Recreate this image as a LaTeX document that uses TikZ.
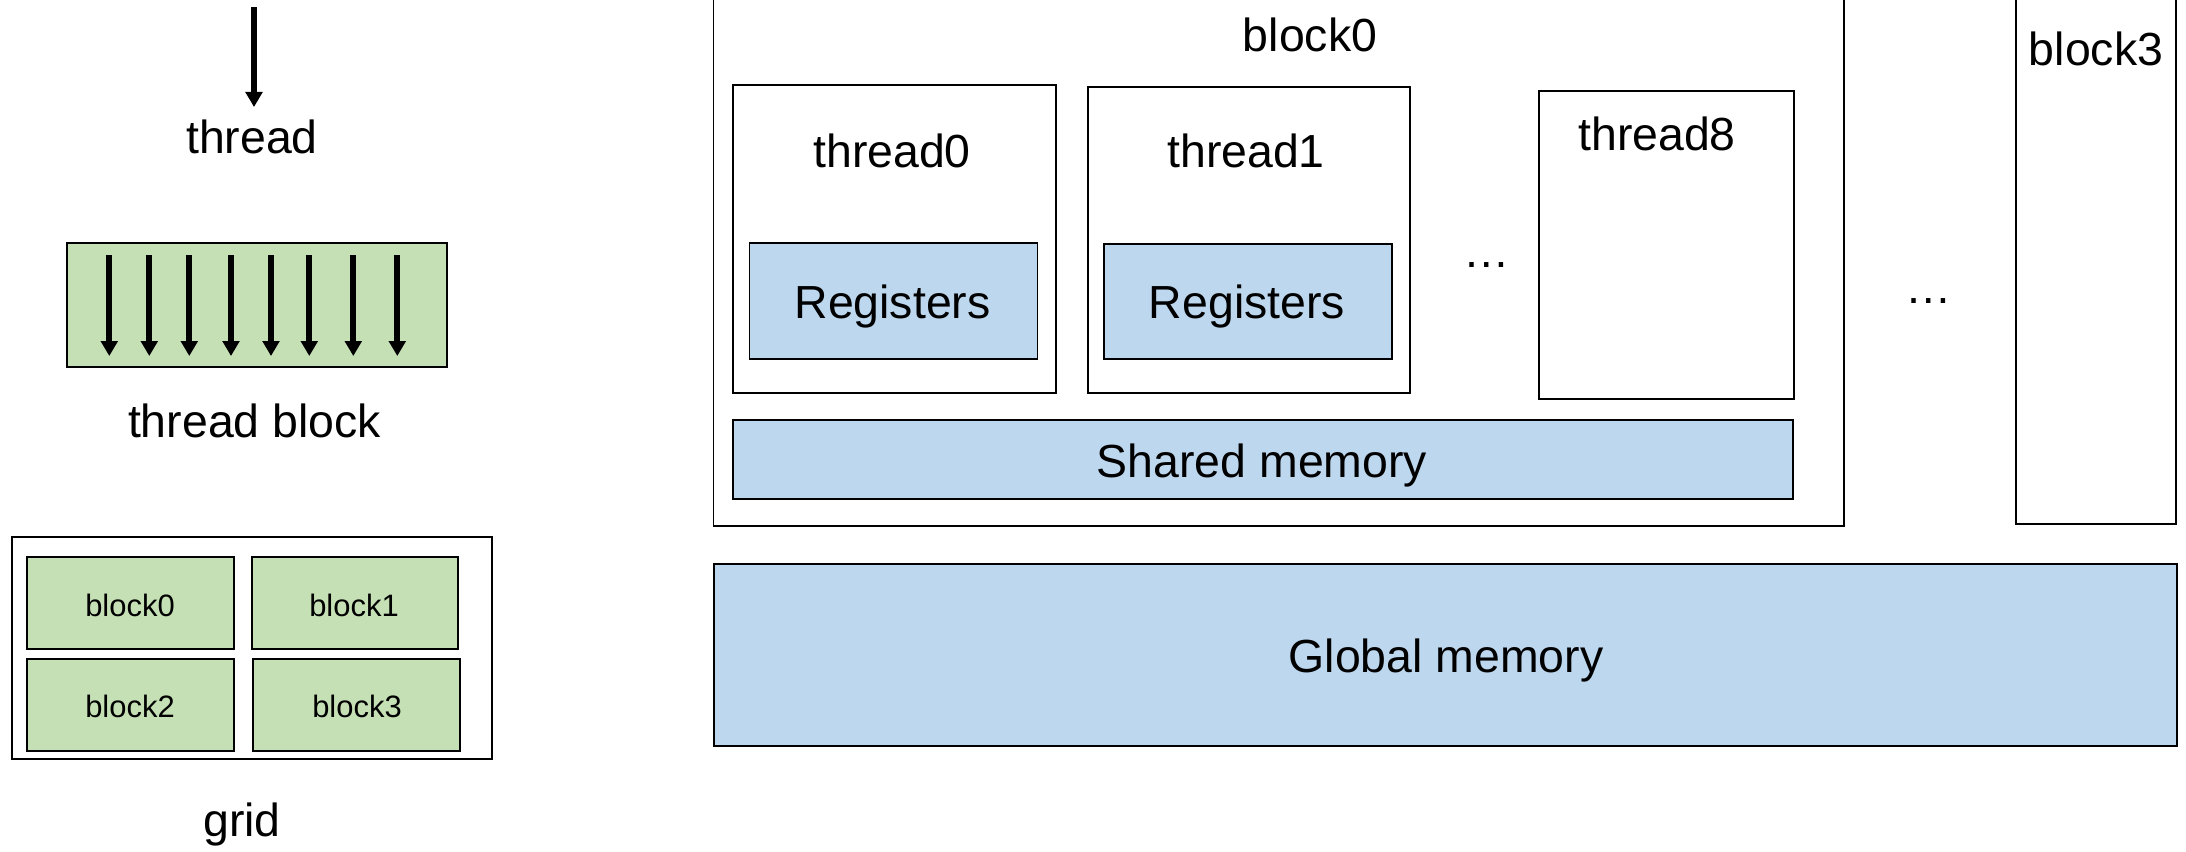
\documentclass[tikz,border=0pt]{standalone}
\usepackage{fontspec}
\setmainfont{Liberation Sans}
\usetikzlibrary{fit,arrows.meta}
\definecolor{gfill}{HTML}{C5E0B4}
\definecolor{bfill}{HTML}{BDD7EE}
\tikzset{
  box/.style={draw=black, line width=0.55pt, inner sep=0pt, outer sep=0pt},
  gbox/.style={box, fill=gfill},
  bbox/.style={box, fill=bfill},
  lbl/.style={anchor=base, inner sep=0pt, font=\fontsize{13.2}{15}\selectfont},
  slbl/.style={anchor=base, inner sep=0pt, font=\fontsize{8.8}{10}\selectfont},
  tharrow/.style={line width=1.6pt, -{Triangle[width=0.165cm,length=0.15cm]}}
}
\begin{document}
\begin{tikzpicture}[x=0.01cm,y=-0.01cm]
\useasboundingbox (0,0) rectangle (2186,851);
\clip (0,0) rectangle (2186,851);
% ---------- left: legend ----------
\coordinate (ta) at (254,7);
\coordinate (tb) at (254,107);
\draw[tharrow] (ta) -- (tb);
\node[lbl] (thlbl) at (252,153) {thread};

\node[gbox, fit={(67,243) (447,367)}] (tblock) {};
\foreach \x [count=\i] in {109.3,149.3,189.3,231,271,309.3,353.3,397.3}{
  \coordinate (a\i) at (\x,255);
  \coordinate (b\i) at (\x,356);
  \draw[tharrow] (a\i) -- (b\i);
}
\node[lbl] (tblbl) at (254.5,437) {thread block};

\node[box, fit={(11.7,537) (492,759)}] (grid) {};
\node[gbox, fit={(27,557) (234,649)}] (gb0) {};
\node[gbox, fit={(252,557) (458,649)}] (gb1) {};
\node[gbox, fit={(27,659) (234,751)}] (gb2) {};
\node[gbox, fit={(253,659) (460,751)}] (gb3) {};
\node[slbl] (gl0) at (130,616) {block0};
\node[slbl] (gl1) at (354,616) {block1};
\node[slbl] (gl2) at (130,717) {block2};
\node[slbl] (gl3) at (357,717) {block3};
\node[lbl] (gridlbl) at (242,836) {grid};

% ---------- right: memory hierarchy ----------
\node[box, fit={(713.5,-20) (1844,526)}] (B0) {};
\node[lbl] (B0lbl) at (1310,51.5) {block0};

\node[box, fit={(733,85) (1056,393)}] (T0) {};
\node[lbl] (T0lbl) at (892,167) {thread0};
\node[bbox, fit={(749.5,243) (1037.5,359)}] (R0) {};
\node[lbl] (R0lbl) at (892.5,318) {Registers};

\node[box, fit={(1088,87) (1410,393)}] (T1) {};
\node[lbl] (T1lbl) at (1246,167) {thread1};
\node[bbox, fit={(1104,244) (1392,359)}] (R1) {};
\node[lbl] (R1lbl) at (1247,318) {Registers};

\node[lbl] (dots1) at (1487,267) {…};

\node[box, fit={(1539,91) (1794,399)}] (T8) {};
\node[lbl] (T8lbl) at (1657,150) {thread8};

\node[bbox, fit={(733,420) (1792.5,498.7)}] (SM) {};
\node[lbl] (SMlbl) at (1262,477) {Shared memory};

\node[lbl] (dots2) at (1929,303) {…};

\node[box, fit={(2015.5,-20) (2176,524)}] (B3) {};
\node[lbl] (B3lbl) at (2096,65) {block3};

\node[bbox, fit={(714,564) (2177,746)}] (GM) {};
\node[lbl] (GMlbl) at (1446,672) {Global memory};
\end{tikzpicture}
\end{document}
